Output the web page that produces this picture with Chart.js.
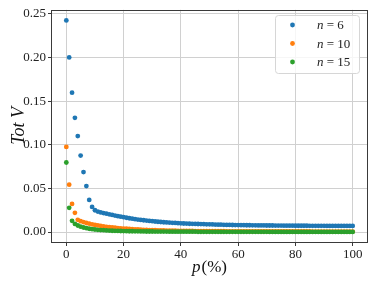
<!DOCTYPE html>
<html><head><meta charset="utf-8">
<script src="https://cdn.jsdelivr.net/npm/chart.js@4.4.0/dist/chart.umd.min.js"></script>
<style>html,body{margin:0;padding:0;background:#fff;overflow:hidden}#wrap{width:374px;height:285px;position:relative}</style>
</head><body><div id="wrap"><canvas id="c"></canvas></div>
<script>
// ---- data ----
const pPercent = [0,1,2,3,4,5,6,7,8,9,10,11,12,13,14,15,16,17,18,19,20,21,22,23,24,25,26,27,28,29,30,31,32,33,34,35,36,37,38,39,40,41,42,43,44,45,46,47,48,49,50,51,52,53,54,55,56,57,58,59,60,61,62,63,64,65,66,67,68,69,70,71,72,73,74,75,76,77,78,79,80,81,82,83,84,85,86,87,88,89,90,91,92,93,94,95,96,97,98,99,100];
const seriesN = [6, 10, 15];
const totV_n6 = [0.2424,0.2000,0.1597,0.1309,0.1100,0.0876,0.0687,0.0527,0.0368,0.0288,
0.0250,0.0235,0.0225,0.0217,0.0210,0.0203,0.0196,0.0189,0.0182,0.0176,
0.0170,0.0164,0.0158,0.0153,0.0148,0.0143,0.0139,0.0135,0.0131,0.0127,
0.0124,0.0121,0.0118,0.0115,0.0112,0.0110,0.0108,0.0106,0.0104,0.0102,
0.0100,0.0098,0.0097,0.0095,0.0094,0.0093,0.0092,0.0091,0.0090,0.0089,
0.0088,0.0087,0.0086,0.0085,0.0084,0.0083,0.0082,0.0082,0.0081,0.0080,
0.0080,0.0079,0.0079,0.0078,0.0078,0.0077,0.0077,0.0076,0.0076,0.0076,
0.0075,0.0075,0.0075,0.0074,0.0074,0.0074,0.0073,0.0073,0.0073,0.0073,
0.0072,0.0072,0.0072,0.0072,0.0072,0.0071,0.0071,0.0071,0.0071,0.0071,
0.0071,0.0070,0.0070,0.0070,0.0070,0.0070,0.0070,0.0070,0.0070,0.0070,0.0070];
const totV_n10 = [0.0975,0.0543,0.0322,0.0220,0.0140,0.0125,0.0114,0.0104,0.0096,0.0089,
0.0082,0.0076,0.0070,0.0065,0.0060,0.0056,0.0052,0.0049,0.0046,0.0043,
0.0040,0.0038,0.0035,0.0033,0.0031,0.0029,0.0027,0.0026,0.0024,0.0023,
0.0022,0.0021,0.0020,0.0019,0.0018,0.0017,0.0016,0.0016,0.0015,0.0014,
0.0014,0.0013,0.0013,0.0012,0.0012,0.0011,0.0011,0.0011,0.0010,0.0010,
0.0010,0.0009,0.0009,0.0009,0.0009,0.0009,0.0008,0.0008,0.0008,0.0008,
0.0008,0.0008,0.0008,0.0008,0.0007,0.0007,0.0007,0.0007,0.0007,0.0007,
0.0007,0.0007,0.0007,0.0007,0.0006,0.0006,0.0006,0.0006,0.0006,0.0006,
0.0006,0.0006,0.0006,0.0006,0.0006,0.0006,0.0005,0.0005,0.0005,0.0005,
0.0005,0.0005,0.0005,0.0005,0.0005,0.0005,0.0005,0.0005,0.0005,0.0005,0.0005];
const totV_n15 = [0.0797,0.0277,0.0129,0.0093,0.0075,0.0062,0.0052,0.0044,0.0038,0.0033,
0.0029,0.0026,0.0023,0.0021,0.0019,0.0017,0.0015,0.0014,0.0013,0.0012,
0.0011,0.0010,0.0009,0.0009,0.0008,0.0008,0.0007,0.0007,0.0006,0.0006,
0.0006,0.0005,0.0005,0.0005,0.0005,0.0005,0.0004,0.0004,0.0004,0.0004,
0.0004,0.0004,0.0004,0.0004,0.0004,0.0004,0.0003,0.0003,0.0003,0.0003,
0.0003,0.0003,0.0003,0.0003,0.0003,0.0003,0.0002,0.0002,0.0002,0.0002,
0.0002,0.0002,0.0002,0.0002,0.0002,0.0002,0.0002,0.0002,0.0002,0.0002,
0.0002,0.0001,0.0001,0.0001,0.0001,0.0001,0.0001,0.0001,0.0001,0.0001,
0.0001,0.0001,0.0001,0.0001,0.0001,0.0001,0.0001,0.0001,0.0001,0.0001,
0.0001,0.0001,0.0001,0.0001,0.0001,0.0001,0.0001,0.0001,0.0001,0.0001,0.0001];
const seriesValues = [totV_n6, totV_n10, totV_n15];
const seriesColors = ['#1f77b4', '#ff7f0e', '#2ca02c'];
const xTicks = [0, 20, 40, 60, 80, 100];
const yTicks = [0, 0.05, 0.10, 0.15, 0.20, 0.25];
const yTickLabels = ['0.00', '0.05', '0.10', '0.15', '0.20', '0.25'];
const xTitleItalic = 'p', xTitleRest = '(%)';
const yTitle = 'Tot V';

const SERIF = "'Liberation Serif', 'DejaVu Serif', serif";

const datasets = seriesN.map((n, i) => ({
  label: 'n = ' + n,
  data: pPercent.map((p, j) => ({x: p, y: seriesValues[i][j]})),
  backgroundColor: seriesColors[i],
  borderColor: seriesColors[i],
  borderWidth: 0,
  pointRadius: 2.4,
  pointHoverRadius: 2.4,
  order: seriesN.length - i
}));

const overlay = {
  id: 'overlay',
  afterDraw(chart) {
    const ctx = chart.ctx, a = chart.chartArea;
    ctx.save();
    // frame
    ctx.strokeStyle = '#3a3a3a';
    ctx.lineWidth = 1;
    ctx.strokeRect(Math.round(a.left) - 0.5, Math.round(a.top) + 0.5, Math.round(a.right - a.left) + 1, Math.round(a.bottom - a.top));
    // x title
    ctx.fillStyle = '#111';
    ctx.textBaseline = 'alphabetic';
    const italic = 'italic 17px ' + SERIF, normal = '17px ' + SERIF;
    ctx.font = italic; const w1 = ctx.measureText(xTitleItalic).width + 1;
    ctx.font = normal; const w2 = ctx.measureText(xTitleRest).width;
    const cx = (a.left + a.right) / 2;
    let x0 = cx - (w1 + w2) / 2;
    ctx.font = italic; ctx.textAlign = 'left'; ctx.fillText(xTitleItalic, x0, 272);
    ctx.font = normal; ctx.fillText(xTitleRest, x0 + w1, 272);
    // y title
    ctx.save();
    ctx.translate(24, (a.top + a.bottom) / 2);
    ctx.rotate(-Math.PI / 2);
    ctx.font = 'italic 18px ' + SERIF;
    ctx.textAlign = 'center';
    ctx.fillText(yTitle, 0, 0);
    ctx.restore();
    // legend
    const bx = 275.5, by = 15.5, bw = 84, bh = 58;
    ctx.beginPath();
    ctx.roundRect(bx, by, bw, bh, 3);
    ctx.fillStyle = 'rgba(255,255,255,0.8)';
    ctx.fill();
    ctx.strokeStyle = '#d6d6d6';
    ctx.stroke();
    const legFontI = 'italic 13px ' + SERIF, legFont = '13px ' + SERIF;
    chart.data.datasets.forEach((ds, i) => {
      const ry = 25 + i * 18.5;
      ctx.beginPath();
      ctx.fillStyle = ds.backgroundColor;
      ctx.arc(292.5, ry, 2.4, 0, Math.PI * 2);
      ctx.fill();
      ctx.fillStyle = '#222';
      ctx.textBaseline = 'middle';
      ctx.textAlign = 'left';
      ctx.font = legFontI; ctx.fillText('n', 317, ry + 1);
      const wn = ctx.measureText('n').width;
      ctx.font = legFont; ctx.fillText(' = ' + seriesN[i], 317 + wn, ry + 1);
    });
    ctx.restore();
  }
};

new Chart(document.getElementById('c'), {
  type: 'scatter',
  data: { datasets },
  options: {
    responsive: true,
    maintainAspectRatio: false,
    animation: false,
    events: [],
    layout: { padding: { top: 8, right: 7, left: 0, bottom: 0 } },
    plugins: { legend: { display: false }, tooltip: { enabled: false } },
    scales: {
      x: {
        type: 'linear', min: -5, max: 105,
        afterBuildTicks: s => { s.ticks = xTicks.map(v => ({ value: v })); },
        afterFit: s => { s.height = 43; },
        border: { display: false },
        grid: { color: '#d0d0d0', lineWidth: 1, tickColor: '#3a3a3a', tickLength: 4, drawTicks: true },
        ticks: { color: '#222', font: { family: SERIF, size: 13 }, padding: 1, maxRotation: 0,
                 callback: v => String(v) }
      },
      y: {
        type: 'linear', min: -0.0114, max: 0.2546,
        afterBuildTicks: s => { s.ticks = yTicks.map(v => ({ value: v })); },
        afterFit: s => { s.width = 52; },
        border: { display: false },
        grid: { color: '#d0d0d0', lineWidth: 1, tickColor: '#3a3a3a', tickLength: 4, drawTicks: true },
        ticks: { color: '#222', font: { family: SERIF, size: 13 }, padding: 2,
                 callback: (v) => { const k = yTicks.findIndex(t => Math.abs(t - v) < 1e-9); return k >= 0 ? yTickLabels[k] : ''; } }
      }
    }
  },
  plugins: [overlay]
});
</script>
</body></html>
